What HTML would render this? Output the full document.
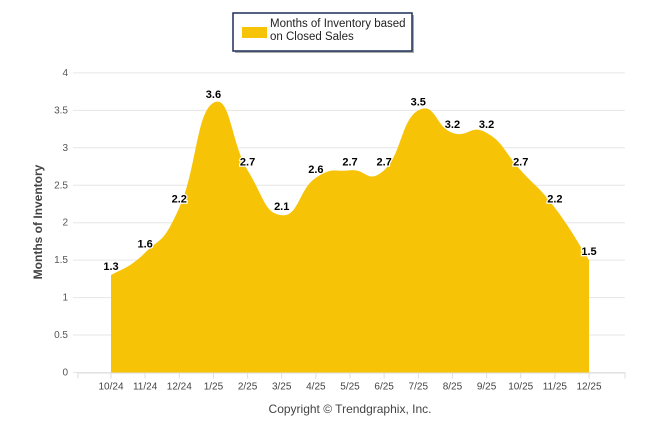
<!DOCTYPE html>
<html><head><meta charset="utf-8"><style>
body{margin:0;background:#fff;width:646px;height:434px;overflow:hidden;font-family:"Liberation Sans",sans-serif}
</style></head><body>
<svg id="chart" width="646" height="434" xmlns="http://www.w3.org/2000/svg">
<g id="grid"></g>
<path id="area" fill="#f7c306"></path>
<g id="labels"></g>
<g id="xaxis"></g>
<text transform="translate(42,222) rotate(-90)" text-anchor="middle" font-size="12" font-weight="bold" fill="#444">Months of Inventory</text>
<text x="350" y="413" text-anchor="middle" font-size="12" fill="#444">Copyright © Trendgraphix, Inc.</text>
<g>
<rect x="235" y="15" width="179" height="38" fill="#555" opacity="0.5"/>
<rect x="233" y="13" width="179" height="38" fill="#fff" stroke="#1f2f5a" stroke-width="1.5"/>
<rect x="242" y="27" width="25" height="11" fill="#f7c306"/>
<text x="270" y="27" font-size="11.5" fill="#222">Months of Inventory based</text>
<text x="270" y="40" font-size="11.5" fill="#222">on Closed Sales</text>
</g>
</svg>
<script>
const categories=["10/24","11/24","12/24","1/25","2/25","3/25","4/25","5/25","6/25","7/25","8/25","9/25","10/25","11/25","12/25"];
const values=[1.3,1.6,2.2,3.6,2.7,2.1,2.6,2.7,2.7,3.5,3.2,3.2,2.7,2.2,1.5];
const yTicks=[0,0.5,1,1.5,2,2.5,3,3.5,4];
const NS="http://www.w3.org/2000/svg";
const x0=111,x1=589,y0=372.5,yPer=74.9;
const xs=i=>x0+(x1-x0)*i/(categories.length-1);
const ys=v=>y0-v*yPer;
function mk(t,a,p){const e=document.createElementNS(NS,t);for(const k in a)e.setAttribute(k,a[k]);p.appendChild(e);return e;}
const grid=document.getElementById('grid');
yTicks.forEach(v=>{
 const l=mk('line',{x1:73,x2:625,y1:ys(v),y2:ys(v),stroke:'#e6e6e6','stroke-width':1},grid);
 
 
 const t=mk('text',{x:68,y:ys(v)+3,'text-anchor':'end','font-size':10,fill:'#555'},grid);
 t.textContent=v;
 
 
});
const xa=document.getElementById('xaxis');
mk('line',{x1:78,x2:625,y1:y0+0.5,y2:y0+0.5,stroke:'#ddd'},xa);
mk('line',{x1:78,x2:78,y1:y0,y2:y0+6,stroke:'#ddd'},xa);
for(let i=0;i<categories.length;i++){mk('line',{x1:xs(i),x2:xs(i),y1:y0,y2:y0+6,stroke:'#ddd'},xa);}
mk('line',{x1:625,x2:625,y1:y0,y2:y0+6,stroke:'#ddd'},xa);
categories.forEach((c,i)=>{
 const t=mk('text',{x:xs(i),y:y0+17,'text-anchor':'middle','font-size':10,fill:'#444'},xa);
 t.textContent=c;
 
 
});
const pts=values.map((v,i)=>[xs(i),ys(v)]);
let d=`M${pts[0][0]},${y0}L${pts[0][0]},${pts[0][1]}`;
const sm=0.3;
for(let i=0;i<pts.length-1;i++){
 const p0=pts[i-1]||pts[i],p1=pts[i],p2=pts[i+1],p3=pts[i+2]||p2;
 const c1=[p1[0]+(p2[0]-p0[0])*sm/1.2,p1[1]+(p2[1]-p0[1])*sm/1.2];
 const c2=[p2[0]-(p3[0]-p1[0])*sm/1.2,p2[1]-(p3[1]-p1[1])*sm/1.2];
 d+=`C${c1[0]},${c1[1]} ${c2[0]},${c2[1]} ${p2[0]},${p2[1]}`;
}
d+=`L${pts[pts.length-1][0]},${y0}Z`;
document.getElementById('area').setAttribute('d',d);
const lg=document.getElementById('labels');
values.forEach((v,i)=>{
 const t=mk('text',{x:xs(i),y:ys(v)-5,'text-anchor':'middle','font-size':11,'font-weight':'bold',fill:'#000',stroke:'#fff','stroke-width':2.5,'paint-order':'stroke'},lg);
 t.textContent=v;
 
 
});
</script>
</body></html>
